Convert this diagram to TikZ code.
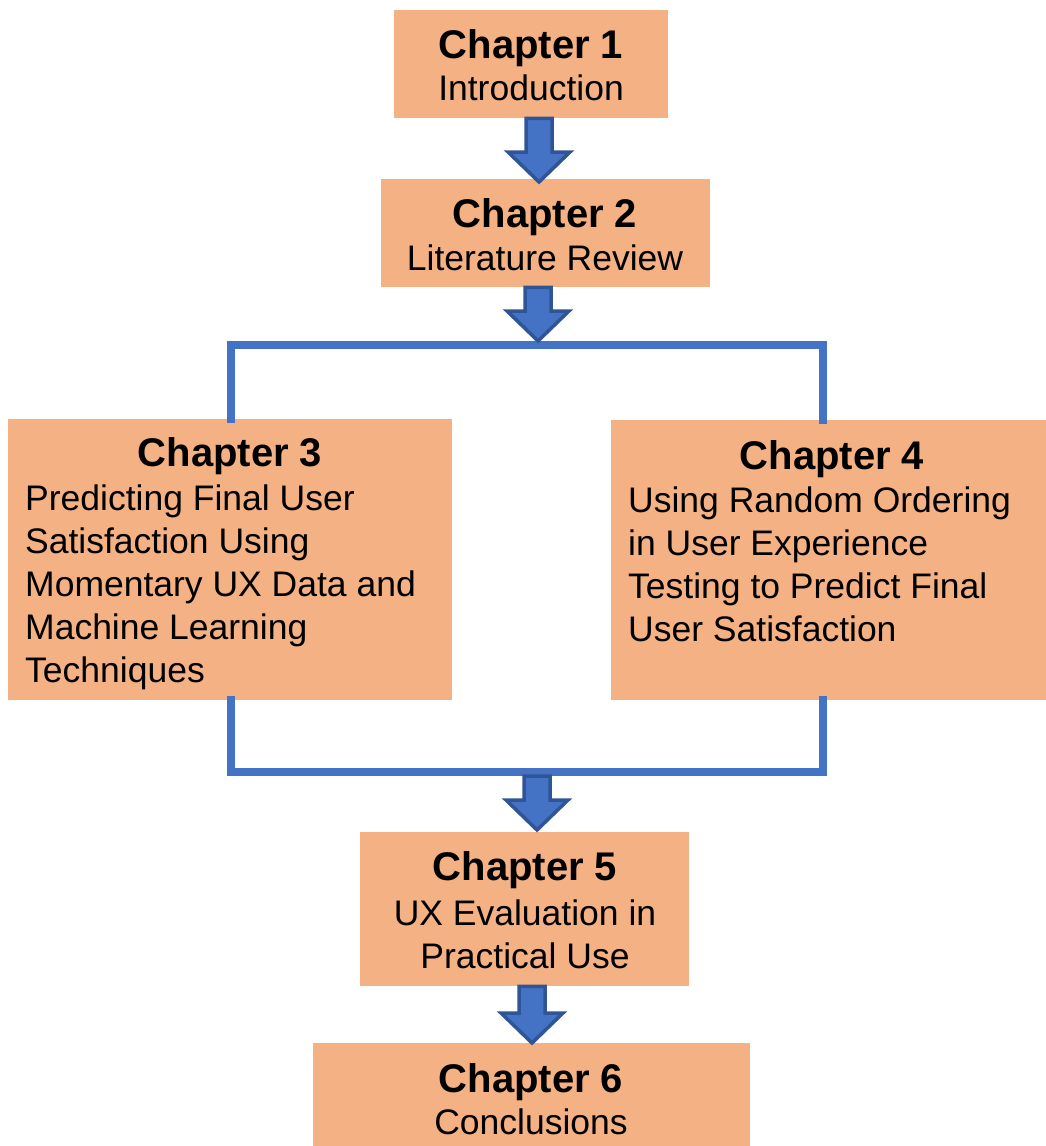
\documentclass[tikz,border=0pt]{standalone}
\usepackage{fontspec}
\setmainfont{Liberation Sans}
\usetikzlibrary{calc}
\definecolor{boxfill}{HTML}{F4B183}
\definecolor{flowblue}{HTML}{4472C4}
\definecolor{flowedge}{HTML}{2F5597}
\tikzset{
  chbox/.style={fill=boxfill, draw=none, inner sep=0pt, anchor=north west},
  chtitle/.style={anchor=base, inner sep=0pt, font=\fontsize{40}{43}\selectfont\bfseries},
  chbody/.style={anchor=base, inner sep=0pt, align=center, font=\fontsize{35.5}{43}\selectfont},
  chbodyleft/.style={anchor=base west, inner sep=0pt, align=left, font=\fontsize{35.5}{43}\selectfont},
  bracketline/.style={draw=flowblue, line width=8pt, line cap=rect},
  blockarrow/.style={fill=flowblue, draw=flowedge, line width=3.5pt, line join=miter},
}
% block arrow: #1 start line, #2 tip point
\newcommand{\chArrow}[2]{%
  \coordinate (arrtop) at (#1 -| #2);
  \draw[blockarrow] ($(arrtop)+(-13,0)$) -- ($(#2)+(-13,-30)$) -- ($(#2)+(-31,-30)$)
    -- (#2) -- ($(#2)+(31,-30)$) -- ($(#2)+(13,-30)$) -- ($(arrtop)+(13,0)$) -- cycle;
}
\begin{document}
\begin{tikzpicture}[x=1pt, y=-1pt]
\useasboundingbox (0,0) rectangle (1046,1146);

% chapter boxes
\node[chbox, minimum width=274pt, minimum height=108pt] (c1) at (394,10) {};
\node[chbox, minimum width=329pt, minimum height=108pt] (c2) at (381,179) {};
\node[chbox, minimum width=444pt, minimum height=281pt] (c3) at (8,419) {};
\node[chbox, minimum width=435pt, minimum height=280pt] (c4) at (611,420) {};
\node[chbox, minimum width=329pt, minimum height=154pt] (c5) at (360,832) {};
\node[chbox, minimum width=437pt, minimum height=103pt] (c6) at (313,1043) {};

% branch lines between chapter 2 and chapters 3/4, and their merge
\coordinate (splitL) at (231,345);
\coordinate (splitR) at (823,345);
\coordinate (mergeL) at (231,772);
\coordinate (mergeR) at (823,772);
\coordinate (splitmid) at (538,341);
\coordinate (mergemid) at (537,776);
\draw[bracketline] (c3.north -| splitL) -- (splitL) -- (splitR) -- (c4.north -| splitR);
\draw[bracketline] (c3.south -| mergeL) -- (mergeL) -- (mergeR) -- (c4.south -| mergeR);

% block arrows
\coordinate (tip1) at (539,182);
\coordinate (tip3) at (537,830);
\coordinate (tip4) at (532,1043);
\chArrow{c1.south}{tip1}
\chArrow{c2.south}{splitmid}
\chArrow{mergemid}{tip3}
\chArrow{c5.south}{tip4}

% texts (multi-line nodes sit on the baseline of their last line)
\node[chtitle] (t1) at (531,58) {Chapter 1};
\node[chbody] (b1) at (531,100) {Introduction};
\node[chtitle] (t2) at (545,227) {Chapter 2};
\node[chbody] (b2) at (545,270) {Literature Review};
\node[chtitle] (t3) at (230,466) {Chapter 3};
\node[chbodyleft] (b3) at (25,682) {Predicting Final User\\Satisfaction Using\\Momentary UX Data and\\Machine Learning\\Techniques};
\node[chtitle] (t4) at (832,469) {Chapter 4};
\node[chbodyleft] (b4) at (628,641) {Using Random Ordering\\in User Experience\\Testing to Predict Final\\User Satisfaction};
\node[chtitle] (t5) at (525,880) {Chapter 5};
\node[chbody] (b5) at (525,968) {UX Evaluation in\\Practical Use};
\node[chtitle] (t6) at (531,1092) {Chapter 6};
\node[chbody] (b6) at (531,1134) {Conclusions};
\end{tikzpicture}
\end{document}
